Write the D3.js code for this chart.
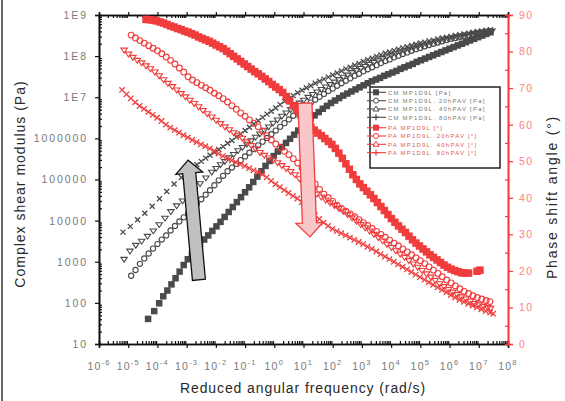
<!DOCTYPE html>
<html><head><meta charset="utf-8">
<script src="https://cdn.jsdelivr.net/npm/d3@7"></script>
<style>body{margin:0;background:#fff}svg{display:block;font-family:"Liberation Sans",Arial,sans-serif}</style>
</head><body><svg id="c" width="565" height="401"></svg>
<script>
// ---- data: [log10(omega rad/s), log10(|G*| Pa)] ----
const cmUnaged = [[-4.32,1.61],[-4.11,1.80],[-3.94,1.99],[-3.80,2.16],[-3.66,2.30],[-3.52,2.45],[-3.38,2.60],[-3.24,2.76],[-3.10,2.92],[-2.96,3.06],[-2.82,3.19],[-2.68,3.31],[-2.54,3.43],[-2.40,3.54],[-2.26,3.64],[-2.12,3.75],[-1.98,3.86],[-1.84,3.97],[-1.70,4.09],[-1.56,4.21],[-1.42,4.33],[-1.28,4.45],[-1.14,4.57],[-1.00,4.69],[-0.86,4.81],[-0.72,4.94],[-0.58,5.07],[-0.44,5.20],[-0.30,5.33],[-0.16,5.45],[-0.02,5.57],[0.12,5.68],[0.26,5.79],[0.40,5.89],[0.54,5.99],[0.68,6.09],[0.82,6.19],[0.96,6.29],[1.10,6.38],[1.24,6.47],[1.38,6.56],[1.52,6.64],[1.66,6.72],[1.80,6.79],[1.94,6.86],[2.08,6.92],[2.22,6.98],[2.36,7.04],[2.50,7.09],[2.64,7.14],[2.78,7.19],[2.92,7.24],[3.06,7.29],[3.20,7.34],[3.34,7.39],[3.48,7.43],[3.62,7.47],[3.76,7.52],[3.90,7.56],[4.04,7.60],[4.18,7.64],[4.32,7.69],[4.46,7.73],[4.60,7.77],[4.74,7.81],[4.88,7.86],[5.02,7.90],[5.16,7.94],[5.30,7.98],[5.44,8.02],[5.58,8.06],[5.72,8.10],[5.86,8.14],[6.00,8.18],[6.14,8.22],[6.28,8.26],[6.42,8.30],[6.56,8.34],[6.70,8.38],[6.84,8.42],[6.98,8.46],[7.12,8.50],[7.26,8.54],[7.40,8.58]];
const cm20h = [[-4.90,2.66],[-4.75,2.80],[-4.60,2.95],[-4.45,3.08],[-4.30,3.20],[-4.15,3.32],[-4.00,3.43],[-3.85,3.54],[-3.70,3.64],[-3.55,3.76],[-3.40,3.87],[-3.25,3.98],[-3.10,4.08],[-2.95,4.18],[-2.80,4.30],[-2.65,4.41],[-2.50,4.52],[-2.35,4.63],[-2.20,4.74],[-2.05,4.86],[-1.90,4.98],[-1.75,5.09],[-1.60,5.20],[-1.45,5.29],[-1.30,5.38],[-1.15,5.47],[-1.00,5.56],[-0.85,5.65],[-0.70,5.74],[-0.55,5.83],[-0.40,5.92],[-0.25,6.01],[-0.10,6.10],[0.05,6.19],[0.20,6.28],[0.35,6.37],[0.50,6.46],[0.65,6.55],[0.80,6.63],[0.95,6.71],[1.10,6.79],[1.25,6.87],[1.40,6.94],[1.55,7.01],[1.70,7.08],[1.85,7.15],[2.00,7.21],[2.15,7.28],[2.30,7.34],[2.45,7.40],[2.60,7.46],[2.75,7.52],[2.90,7.57],[3.05,7.63],[3.20,7.68],[3.35,7.73],[3.50,7.78],[3.65,7.83],[3.80,7.88],[3.95,7.92],[4.10,7.97],[4.25,8.01],[4.40,8.05],[4.55,8.09],[4.70,8.13],[4.85,8.17],[5.00,8.20],[5.15,8.24],[5.30,8.27],[5.45,8.30],[5.60,8.33],[5.75,8.36],[5.90,8.39],[6.05,8.42],[6.20,8.44],[6.35,8.47],[6.50,8.49],[6.65,8.51],[6.80,8.53],[6.95,8.55],[7.10,8.57],[7.25,8.59],[7.40,8.60]];
const cm40h = [[-5.14,3.06],[-4.94,3.26],[-4.74,3.40],[-4.54,3.50],[-4.34,3.62],[-4.14,3.75],[-3.94,3.90],[-3.74,4.06],[-3.54,4.22],[-3.34,4.36],[-3.14,4.48],[-2.94,4.62],[-2.74,4.76],[-2.54,4.90],[-2.34,5.04],[-2.14,5.18],[-1.99,5.27],[-1.84,5.36],[-1.69,5.44],[-1.54,5.53],[-1.39,5.61],[-1.24,5.70],[-1.09,5.78],[-0.94,5.86],[-0.79,5.94],[-0.64,6.03],[-0.49,6.11],[-0.34,6.20],[-0.19,6.28],[-0.04,6.37],[0.11,6.45],[0.26,6.54],[0.41,6.62],[0.56,6.70],[0.71,6.78],[0.86,6.86],[1.01,6.93],[1.16,7.00],[1.31,7.07],[1.46,7.13],[1.61,7.19],[1.76,7.25],[1.91,7.31],[2.06,7.37],[2.21,7.43],[2.36,7.49],[2.51,7.54],[2.66,7.60],[2.81,7.65],[2.96,7.70],[3.11,7.75],[3.26,7.80],[3.41,7.85],[3.56,7.89],[3.71,7.94],[3.86,7.98],[4.01,8.02],[4.16,8.06],[4.31,8.10],[4.46,8.13],[4.61,8.17],[4.76,8.20],[4.91,8.23],[5.06,8.26],[5.21,8.29],[5.36,8.32],[5.51,8.35],[5.66,8.37],[5.81,8.40],[5.96,8.42],[6.11,8.44],[6.26,8.46],[6.41,8.48],[6.56,8.51],[6.71,8.53],[6.86,8.55],[7.01,8.56],[7.16,8.58],[7.31,8.60],[7.45,8.61]];
const cm80h = [[-5.18,3.72],[-4.93,3.86],[-4.68,4.02],[-4.43,4.18],[-4.18,4.35],[-3.93,4.53],[-3.68,4.71],[-3.43,4.89],[-3.18,5.05],[-2.95,5.20],[-2.80,5.28],[-2.65,5.36],[-2.50,5.44],[-2.35,5.52],[-2.20,5.59],[-2.05,5.66],[-1.90,5.73],[-1.75,5.80],[-1.60,5.88],[-1.45,5.95],[-1.30,6.03],[-1.15,6.11],[-1.00,6.19],[-0.85,6.27],[-0.70,6.35],[-0.55,6.43],[-0.40,6.51],[-0.25,6.59],[-0.10,6.66],[0.05,6.74],[0.20,6.82],[0.35,6.90],[0.50,6.97],[0.65,7.04],[0.80,7.11],[0.95,7.17],[1.10,7.23],[1.25,7.28],[1.40,7.34],[1.55,7.39],[1.70,7.44],[1.85,7.49],[2.00,7.54],[2.15,7.59],[2.30,7.64],[2.45,7.69],[2.60,7.73],[2.75,7.78],[2.90,7.82],[3.05,7.87],[3.20,7.91],[3.35,7.95],[3.50,7.99],[3.65,8.03],[3.80,8.07],[3.95,8.10],[4.10,8.14],[4.25,8.17],[4.40,8.20],[4.55,8.23],[4.70,8.26],[4.85,8.29],[5.00,8.32],[5.15,8.34],[5.30,8.37],[5.45,8.39],[5.60,8.42],[5.75,8.44],[5.90,8.46],[6.05,8.48],[6.20,8.50],[6.35,8.52],[6.50,8.54],[6.65,8.56],[6.80,8.58],[6.95,8.60],[7.10,8.61],[7.25,8.63],[7.40,8.64]];
// ---- data: [log10(omega rad/s), phase angle deg] ----
const paUnaged = [[-4.39,88.8],[-4.27,88.7],[-4.15,88.6],[-4.03,88.4],[-3.91,88.1],[-3.79,87.8],[-3.67,87.4],[-3.55,87.0],[-3.43,86.7],[-3.31,86.3],[-3.19,86.0],[-3.07,85.6],[-2.95,85.3],[-2.83,84.9],[-2.71,84.5],[-2.59,84.0],[-2.47,83.6],[-2.35,83.2],[-2.23,82.8],[-2.11,82.3],[-1.99,81.8],[-1.87,81.3],[-1.75,80.8],[-1.63,80.1],[-1.51,79.4],[-1.39,78.7],[-1.27,78.0],[-1.15,77.3],[-1.03,76.6],[-0.91,75.9],[-0.79,75.2],[-0.67,74.5],[-0.55,73.9],[-0.43,73.2],[-0.31,72.5],[-0.19,71.8],[-0.07,71.0],[0.05,70.3],[0.17,69.6],[0.29,68.8],[0.41,67.7],[0.53,66.5],[0.65,65.2],[0.77,64.0],[0.89,62.8],[1.01,61.6],[1.13,60.5],[1.25,59.4],[1.37,58.5],[1.49,57.7],[1.61,57.0],[1.73,56.2],[1.85,55.4],[1.97,54.6],[2.09,53.5],[2.21,52.2],[2.33,50.8],[2.45,49.3],[2.57,47.8],[2.69,46.3],[2.81,45.0],[2.93,43.8],[3.05,42.8],[3.17,41.8],[3.29,40.8],[3.41,39.8],[3.53,38.7],[3.65,37.6],[3.77,36.5],[3.89,35.4],[4.01,34.3],[4.13,33.3],[4.25,32.3],[4.37,31.4],[4.49,30.5],[4.61,29.5],[4.73,28.5],[4.85,27.6],[4.97,26.8],[5.09,26.0],[5.21,25.2],[5.33,24.4],[5.45,23.7],[5.57,23.0],[5.69,22.3],[5.81,21.6],[5.93,21.0],[6.05,20.5],[6.17,20.1],[6.29,19.8],[6.41,19.5],[6.53,19.4],[6.65,19.4],[6.94,19.9],[7.04,20.2]];
const pa20h = [[-4.90,84.5],[-4.75,83.7],[-4.60,83.0],[-4.45,82.3],[-4.30,81.6],[-4.15,80.9],[-4.00,80.2],[-3.85,79.4],[-3.70,78.5],[-3.55,77.6],[-3.40,76.6],[-3.25,75.5],[-3.10,74.4],[-2.95,73.1],[-2.80,72.2],[-2.65,71.5],[-2.50,70.8],[-2.35,70.1],[-2.20,69.4],[-2.05,68.6],[-1.90,67.9],[-1.75,67.1],[-1.60,66.2],[-1.45,65.2],[-1.30,64.2],[-1.15,63.2],[-1.00,62.3],[-0.85,61.3],[-0.70,60.4],[-0.55,59.4],[-0.40,58.2],[-0.25,57.0],[-0.10,55.8],[0.05,54.7],[0.20,53.7],[0.35,52.7],[0.50,51.8],[0.65,50.7],[0.80,49.5],[0.95,48.2],[1.10,46.8],[1.25,45.3],[1.40,43.8],[1.55,42.3],[1.70,41.0],[1.85,40.0],[2.00,39.0],[2.15,38.0],[2.30,37.1],[2.45,36.3],[2.60,35.6],[2.75,34.8],[2.90,34.0],[3.05,33.2],[3.20,32.4],[3.35,31.6],[3.50,30.8],[3.65,30.0],[3.80,29.2],[3.95,28.4],[4.10,27.6],[4.25,26.8],[4.40,26.0],[4.55,25.2],[4.70,24.4],[4.85,23.6],[5.00,22.8],[5.15,22.0],[5.30,21.1],[5.45,20.2],[5.60,19.3],[5.75,18.4],[5.90,17.5],[6.05,16.7],[6.20,15.9],[6.35,15.1],[6.50,14.4],[6.65,13.8],[6.80,13.2],[6.95,12.7],[7.10,12.3],[7.25,11.9],[7.38,11.6]];
const pa40h = [[-5.14,80.4],[-4.99,79.3],[-4.84,78.4],[-4.69,77.6],[-4.54,76.9],[-4.39,76.1],[-4.24,75.3],[-4.09,74.4],[-3.94,73.4],[-3.79,72.3],[-3.64,71.3],[-3.49,70.4],[-3.34,69.5],[-3.19,68.5],[-3.04,67.6],[-2.89,66.7],[-2.74,65.8],[-2.59,64.9],[-2.44,63.9],[-2.29,63.0],[-2.14,62.1],[-1.99,61.2],[-1.84,60.3],[-1.69,59.4],[-1.54,58.6],[-1.39,57.8],[-1.24,57.1],[-1.09,56.3],[-0.94,55.3],[-0.79,54.3],[-0.64,53.4],[-0.49,52.4],[-0.34,51.6],[-0.19,50.9],[-0.04,50.3],[0.11,49.6],[0.26,48.8],[0.41,48.0],[0.56,47.2],[0.71,46.3],[0.86,45.2],[1.01,44.1],[1.16,43.0],[1.31,42.0],[1.46,41.0],[1.61,40.2],[1.76,39.4],[1.91,38.6],[2.06,37.9],[2.21,37.1],[2.36,36.3],[2.51,35.4],[2.66,34.5],[2.81,33.6],[2.96,32.7],[3.11,31.8],[3.26,30.9],[3.41,30.0],[3.56,29.1],[3.71,28.2],[3.86,27.3],[4.01,26.4],[4.16,25.5],[4.31,24.6],[4.46,23.7],[4.61,22.8],[4.76,21.9],[4.91,21.0],[5.06,20.1],[5.21,19.2],[5.36,18.3],[5.51,17.4],[5.66,16.5],[5.81,15.7],[5.96,14.9],[6.11,14.2],[6.26,13.5],[6.41,12.9],[6.56,12.3],[6.71,11.7],[6.86,11.1],[7.01,10.7],[7.16,10.3],[7.31,10.0],[7.40,9.8]];
const pa80h = [[-5.21,69.5],[-5.06,68.3],[-4.91,67.2],[-4.76,66.1],[-4.61,65.1],[-4.46,64.3],[-4.31,63.5],[-4.16,62.7],[-4.01,61.9],[-3.86,61.0],[-3.71,60.0],[-3.56,59.2],[-3.41,58.5],[-3.26,57.8],[-3.11,57.1],[-2.96,56.5],[-2.81,55.8],[-2.66,55.2],[-2.51,54.6],[-2.36,54.1],[-2.21,53.5],[-2.06,52.8],[-1.91,52.1],[-1.76,51.4],[-1.61,50.8],[-1.46,50.2],[-1.31,49.7],[-1.16,49.2],[-1.01,48.7],[-0.86,48.1],[-0.71,47.5],[-0.56,47.0],[-0.41,46.4],[-0.26,45.6],[-0.11,44.6],[0.04,43.7],[0.19,42.9],[0.34,42.1],[0.49,41.3],[0.64,40.5],[0.79,39.8],[0.94,38.8],[1.09,37.6],[1.24,36.4],[1.39,35.2],[1.54,34.2],[1.69,33.2],[1.84,32.3],[1.99,31.5],[2.14,30.9],[2.29,30.3],[2.44,29.7],[2.59,29.1],[2.74,28.5],[2.89,27.9],[3.04,27.3],[3.19,26.6],[3.34,26.0],[3.49,25.3],[3.64,24.6],[3.79,23.9],[3.94,23.2],[4.09,22.5],[4.24,21.8],[4.39,21.1],[4.54,20.4],[4.69,19.7],[4.84,19.0],[4.99,18.3],[5.14,17.6],[5.29,16.9],[5.44,16.2],[5.59,15.5],[5.74,14.8],[5.89,14.1],[6.04,13.4],[6.19,12.7],[6.34,12.1],[6.49,11.5],[6.64,11.0],[6.79,10.5],[6.94,10.0],[7.09,9.5],[7.24,9.0],[7.39,8.6],[7.49,8.3]];
// ---- tick labels and legend ----
const xTickExps = [-6,-5,-4,-3,-2,-1,0,1,2,3,4,5,6,7,8];
const yTickValues = [1e1,1e2,1e3,1e4,1e5,1e6,1e7,1e8,1e9];
const yTickLabels = ["10","100","1000","10000","100000","1000000","1E7","1E8","1E9"];
const phaseTicks = [0,10,20,30,40,50,60,70,80,90];
const legendLabels = ["CM MP1D9L [Pa]","CM MP1D9L. 20hPAV [Pa]","CM MP1D9L. 40hPAV [Pa]","CM MP1D9L. 80hPAV [Pa]","PA MP1D9L [°]","PA MP1D9L. 20hPAV [°]","PA MP1D9L. 40hPAV [°]","PA MP1D9L. 80hPAV [°]"];
// annotation arrows: [log10 omega, value] tail -> tip
const grayArrow = [[-2.58,2.56],[-2.95,5.47]];      // on modulus axis
const pinkArrow = [[1.05,65.9],[1.22,29.3]];        // on phase axis

const GREY="#4a4a4a", RED="#f03c3c";
const M={l:99,r:508,t:15,b:344};
const svg=d3.select("#c");
const x=d3.scaleLog().domain([1e-6,1e8]).range([M.l,M.r]);
const y=d3.scaleLog().domain([1e1,1e9]).range([M.b,M.t]);
const yR=d3.scaleLinear().domain([0,90]).range([M.b,M.t]);
const p10=v=>Math.pow(10,v);

svg.append("line").attr("x1",2).attr("x2",2).attr("y1",0).attr("y2",401).attr("stroke","#333").attr("stroke-width",1.5);

const minorX=[],minorY=[];
for(let d=-6;d<8;d++)for(let k=2;k<10;k++)minorX.push(k*p10(d));
for(let d=1;d<9;d++)for(let k=2;k<10;k++)minorY.push(k*p10(d));
const minorP=[5,15,25,35,45,55,65,75,85];

function styleAxis(g,col){g.select(".domain").attr("stroke",col).attr("stroke-width",1.6);g.selectAll(".tick line").attr("stroke",col).attr("stroke-width",1.2);}
let g=svg.append("g").attr("transform",`translate(0,${M.b})`).call(d3.axisBottom(x).tickValues(xTickExps.map(p10)).tickSize(4).tickFormat(""));styleAxis(g,"#111");
g=svg.append("g").attr("transform",`translate(0,${M.b})`).call(d3.axisTop(x).tickValues(minorX).tickSize(3).tickFormat(""));styleAxis(g,"#111");
g=svg.append("g").attr("transform",`translate(0,${M.t})`).call(d3.axisTop(x).tickValues(xTickExps.map(p10)).tickSize(3).tickFormat(""));styleAxis(g,"#111");
g=svg.append("g").attr("transform",`translate(0,${M.t})`).call(d3.axisBottom(x).tickValues(minorX).tickSize(3).tickFormat(""));styleAxis(g,"#111");
g=svg.append("g").attr("transform",`translate(${M.l},0)`).call(d3.axisLeft(y).tickValues(yTickValues).tickSize(4).tickPadding(7).tickFormat((d,i)=>yTickLabels[i]));styleAxis(g,"#111");
g.selectAll("text").attr("fill","#7a7a7a").attr("font-size",10.5).attr("letter-spacing",1.9).attr("font-family","Liberation Sans, Arial");
g=svg.append("g").attr("transform",`translate(${M.l},0)`).call(d3.axisRight(y).tickValues(minorY).tickSize(3).tickFormat(""));styleAxis(g,"#111");
g=svg.append("g").attr("transform",`translate(${M.r},0)`).call(d3.axisRight(yR).tickValues(phaseTicks).tickSize(5).tickPadding(6).tickFormat(d=>d));styleAxis(g,"#ff3333");
g.selectAll("text").attr("fill","#ff7f7f").attr("font-size",10.5).attr("letter-spacing",1.5).attr("font-family","Liberation Sans, Arial");
g=svg.append("g").attr("transform",`translate(${M.r},0)`).call(d3.axisLeft(yR).tickValues(minorP).tickSize(3).tickFormat(""));styleAxis(g,"#ff3333");

const xl=svg.append("g").attr("fill","#7a7a7a").attr("font-size",10.5).attr("letter-spacing",1.2);
xTickExps.forEach(e=>{
  const t=xl.append("text").attr("x",x(p10(e))).attr("y",370).attr("text-anchor","middle");
  t.append("tspan").text("10");
  t.append("tspan").attr("dy",-5).attr("font-size",7.5).text(String(e));
});

svg.append("text").attr("x",303).attr("y",393).attr("text-anchor","middle").attr("font-size",14).attr("letter-spacing",0.9).attr("fill","#2a2a2a").text("Reduced angular frequency (rad/s)");
svg.append("text").attr("transform","translate(25,184) rotate(-90)").attr("text-anchor","middle").attr("font-size",14).attr("letter-spacing",1).attr("fill","#2a2a2a").text("Complex shear modulus (Pa)");
svg.append("text").attr("transform","translate(557,197) rotate(-90)").attr("text-anchor","middle").attr("font-size",14).attr("letter-spacing",1.8).attr("fill","#2a2a2a").text("Phase shift angle (°)");

function drawSeries(data,yScale,yConv,kind,col,size){
  const gg=svg.append("g");
  data.forEach(d=>{
    const px=x(p10(d[0])),py=yScale(yConv(d[1])),s=size;
    if(kind==="fsq")gg.append("rect").attr("x",px-s/2).attr("y",py-s/2).attr("width",s).attr("height",s).attr("fill",col);
    else if(kind==="circ")gg.append("circle").attr("cx",px).attr("cy",py).attr("r",s).attr("fill","none").attr("stroke",col).attr("stroke-width",1.1);
    else if(kind==="tri")gg.append("path").attr("d",`M${px-s},${py-s*0.6}L${px+s},${py-s*0.6}L${px},${py+s*0.9}Z`).attr("fill","none").attr("stroke",col).attr("stroke-width",1.1);
    else if(kind==="x")gg.append("path").attr("d",`M${px-s},${py-s}L${px+s},${py+s}M${px-s},${py+s}L${px+s},${py-s}`).attr("stroke",col).attr("stroke-width",1.3);
  });
}
const id=v=>v;
drawSeries(cmUnaged,y,p10,"fsq",GREY,6.5);
drawSeries(cm20h,y,p10,"circ",GREY,2.6);
drawSeries(cm40h,y,p10,"tri",GREY,3.2);
drawSeries(cm80h,y,p10,"x",GREY,2.5);
drawSeries(paUnaged,yR,id,"fsq",RED,7.5);
drawSeries(pa20h,yR,id,"circ",RED,2.9);
drawSeries(pa40h,yR,id,"tri",RED,3.3);
drawSeries(pa80h,yR,id,"x",RED,2.7);

function arrow(p0,p1,w,hw,hl,fill,stroke){
  const dx=p1[0]-p0[0],dy=p1[1]-p0[1],L=Math.hypot(dx,dy),ux=dx/L,uy=dy/L,nx=-uy,ny=ux;
  const bx=p1[0]-ux*hl,by=p1[1]-uy*hl;
  const pts=[[p0[0]+nx*w,p0[1]+ny*w],[bx+nx*w,by+ny*w],[bx+nx*hw,by+ny*hw],p1,[bx-nx*hw,by-ny*hw],[bx-nx*w,by-ny*w],[p0[0]-nx*w,p0[1]-ny*w]];
  svg.append("path").attr("d","M"+pts.map(p=>p.join(",")).join("L")+"Z").attr("fill",fill).attr("stroke",stroke).attr("stroke-width",1.3);
}
arrow([x(p10(grayArrow[0][0])),y(p10(grayArrow[0][1]))],[x(p10(grayArrow[1][0])),y(p10(grayArrow[1][1]))],6.5,13.5,13,"#c0c0c0","#111");
arrow([x(p10(pinkArrow[0][0])),yR(pinkArrow[0][1])],[x(p10(pinkArrow[1][0])),yR(pinkArrow[1][1])],7,13.5,14,"#f9c6ca","#f03c3c");

const lg=svg.append("g");
lg.append("rect").attr("x",370).attr("y",87).attr("width",130).attr("height",81).attr("fill","#fff").attr("stroke","#222").attr("stroke-width",1.5);
const rowY=[92.3,100.7,109,117.3,127.7,136,144.3,152.7];
const kinds=["fsq","circ","tri","x","fsq","circ","tri","x"];
legendLabels.forEach((lab,i)=>{
  const col=i<4?GREY:RED, yy=rowY[i], cx=376;
  lg.append("line").attr("x1",367).attr("x2",386).attr("y1",yy).attr("y2",yy).attr("stroke",col).attr("stroke-width",1.1);
  if(kinds[i]==="fsq")lg.append("rect").attr("x",cx-3).attr("y",yy-3).attr("width",6).attr("height",6).attr("fill",col);
  if(kinds[i]==="circ")lg.append("circle").attr("cx",cx).attr("cy",yy).attr("r",2.5).attr("fill","#fff").attr("stroke",col);
  if(kinds[i]==="tri")lg.append("path").attr("d",`M${cx-3},${yy+2}L${cx+3},${yy+2}L${cx},${yy-3}Z`).attr("fill","#fff").attr("stroke",col);
  if(kinds[i]==="x")lg.append("path").attr("d",`M${cx-3},${yy}L${cx+3},${yy}M${cx},${yy-3}L${cx},${yy+3}`).attr("stroke",col).attr("stroke-width",1.2);
  lg.append("text").attr("x",388).attr("y",yy+2.2).attr("font-size",6).attr("letter-spacing",1.2).attr("fill",i<4?"#777":"#e05a5a").text(lab);
});
</script></body></html>
